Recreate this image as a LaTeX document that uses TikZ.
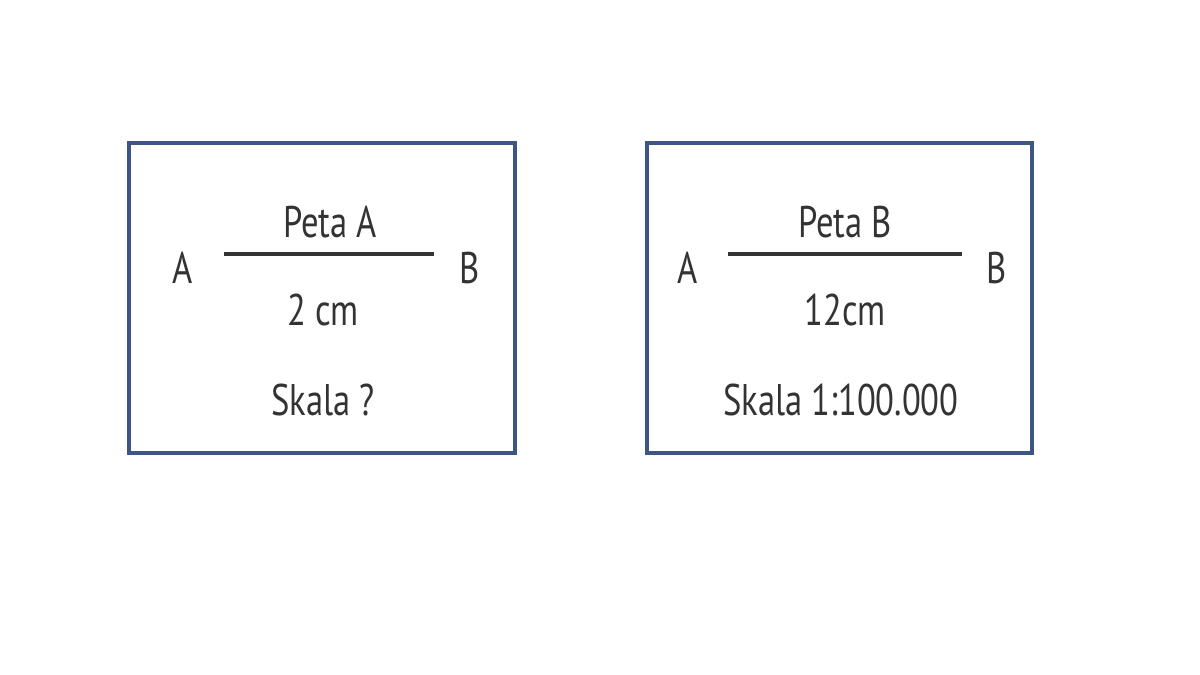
\documentclass[tikz,border=0pt]{standalone}
\usepackage{fontspec}
\setmainfont{PT Sans}[FakeStretch=0.78]
\definecolor{frame}{HTML}{3D5582}
\definecolor{ink}{HTML}{333333}

\begin{document}
\begin{tikzpicture}[x=0.025cm,y=-0.025cm,
    box/.style={draw=frame,line width=2.2pt},
    txt/.style={text=ink,inner sep=0pt,font=\fontsize{31.5}{36}\selectfont},
    bar/.style={draw=ink,line width=2.4pt}]
  \useasboundingbox (0,0) rectangle (1200,675);
  % left: Peta A
  \draw[box] (129,143) rectangle (515,453);
  \node[txt] (lA) at (183,268) {A};
  \node[txt] (lB) at (470,268) {B};
  \coordinate (l1) at (224,254);
  \coordinate (l2) at (434,254);
  \draw[bar] (l1) -- (l2);
  \node[txt] (lpeta) at (330,222) {Peta A};
  \node[txt] (lcm) at (323,310) {2 cm};
  \node[txt] (lskala) at (323,400) {Skala ?};
  % right: Peta B
  \draw[box] (647,143) rectangle (1032,453);
  \node[txt] (rA) at (688,268) {A};
  \node[txt] (rB) at (997,268) {B};
  \coordinate (r1) at (728,254);
  \coordinate (r2) at (962,254);
  \draw[bar] (r1) -- (r2);
  \node[txt] (rpeta) at (845,222) {Peta B};
  \node[txt] (rcm) at (845,310) {12cm};
  \node[txt] (rskala) at (841,400) {Skala 1:100.000};
\end{tikzpicture}
\end{document}
